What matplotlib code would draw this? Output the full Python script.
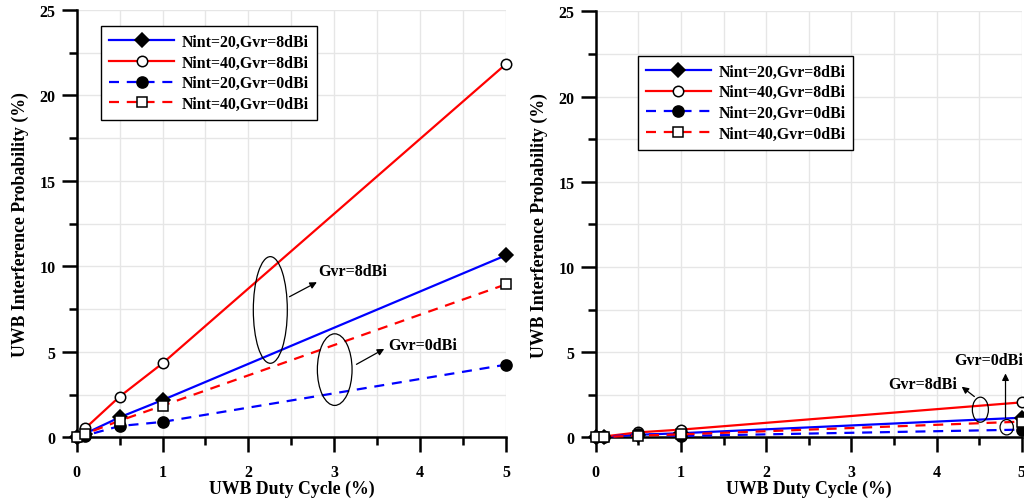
import matplotlib
matplotlib.use("Agg")
import matplotlib.pyplot as plt
from matplotlib.patches import Ellipse
from matplotlib.ticker import MultipleLocator

# ---------------- data ----------------
duty = [0, 0.1, 0.5, 1, 5]

# left panel
L_n20_8 = [0, 0.22, 1.17, 2.18, 10.65]
L_n40_8 = [0, 0.53, 2.38, 4.33, 21.84]
L_n20_0 = [0, 0.10, 0.66, 0.90, 4.25]
L_n40_0 = [0, 0.20, 0.97, 1.85, 8.95]

# right panel
R_n20_8 = [0, 0.03, 0.15, 0.24, 1.15]
R_n40_8 = [0, 0.05, 0.29, 0.45, 2.05]
R_n20_0 = [0, 0.01, 0.20, 0.08, 0.45]
R_n40_0 = [0, 0.02, 0.10, 0.17, 0.92]

labels = ["Nint=20,Gvr=8dBi", "Nint=40,Gvr=8dBi",
          "Nint=20,Gvr=0dBi", "Nint=40,Gvr=0dBi"]

FONT = "Liberation Serif"
plt.rcParams['font.family'] = [FONT, 'DejaVu Serif']
plt.rcParams['font.weight'] = 'bold'

fig = plt.figure(figsize=(10.24, 5.02), dpi=100)
axL = fig.add_axes([76.7/1024, 1-438.3/502, 429.3/1024, 427.3/502])
axR = fig.add_axes([595.7/1024, 1-438.3/502, 426.0/1024, 426.0/502])

dash = (0, (4.5, 3.5))


def draw(ax, series, leg_anchor):
    styles = [
        dict(color='blue', ls='-', marker='D', mfc='black', mec='black', ms=7),
        dict(color='red', ls='-', marker='o', mfc='white', mec='black', ms=7.5),
        dict(color='blue', ls=dash, marker='o', mfc='black', mec='black', ms=8),
        dict(color='red', ls=dash, marker='s', mfc='white', mec='black', ms=7),
    ]
    for ys, st, lab in zip(series, styles, labels):
        ax.plot(duty, ys, lw=1.6, mew=1.1, label=lab, clip_on=False, zorder=3, **st)
    ax.set_xlim(0, 5)
    ax.set_ylim(0, 25)
    ax.xaxis.set_major_locator(MultipleLocator(1))
    ax.xaxis.set_minor_locator(MultipleLocator(0.5))
    ax.yaxis.set_major_locator(MultipleLocator(5))
    ax.yaxis.set_minor_locator(MultipleLocator(2.5))
    ax.grid(True, which='both', color='#e6e6e6', lw=1.0, ls='-')
    ax.set_axisbelow(True)
    for s in ['top', 'right']:
        ax.spines[s].set_visible(False)
    for s in ['left', 'bottom']:
        ax.spines[s].set_linewidth(1.8)
    ax.tick_params(which='major', direction='out', length=11, width=1.8,
                   labelsize=11.5, pad=4)
    ax.tick_params(axis='x', which='major', pad=8)
    ax.tick_params(which='minor', direction='out', length=6, width=1.8)
    for t in ax.get_xticklabels() + ax.get_yticklabels():
        t.set_fontweight('bold')
    ax.set_xlabel("UWB Duty Cycle (%)", fontsize=12.8, fontweight='bold', labelpad=0)
    ax.set_ylabel("UWB Interference Probability (%)", fontsize=12.8,
                  fontweight='bold', labelpad=8)
    leg = ax.legend(loc='upper left', bbox_to_anchor=leg_anchor, borderaxespad=0,
                    fancybox=False, framealpha=1, edgecolor='black',
                    numpoints=1, handlelength=4.1,
                    prop={'family': FONT, 'weight': 'bold', 'size': 11.4},
                    borderpad=0.5, labelspacing=0.3, handletextpad=0.5)
    leg.get_frame().set_linewidth(1.0)


draw(axL, [L_n20_8, L_n40_8, L_n20_0, L_n40_0], (0.057, 0.963))
draw(axR, [R_n20_8, R_n40_8, R_n20_0, R_n40_0], (0.0986, 0.896))

txt = dict(fontsize=11.5, fontweight='bold', va='center')

# left annotations
axL.add_patch(Ellipse((2.255, 7.45), 0.396, 6.24, fill=False, ec='black', lw=0.9, zorder=4))
axL.annotate("", xy=(2.826, 9.15), xytext=(2.45, 8.15),
             arrowprops=dict(arrowstyle='-|>', color='black', lw=0.9))
axL.text(2.81, 9.75, "Gvr=8dBi", ha='left', **txt)
axL.add_patch(Ellipse((3.005, 3.96), 0.404, 4.19, fill=False, ec='black', lw=0.9, zorder=4))
axL.annotate("", xy=(3.61, 5.25), xytext=(3.23, 4.19),
             arrowprops=dict(arrowstyle='-|>', color='black', lw=0.9))
axL.text(3.63, 5.4, "Gvr=0dBi", ha='left', **txt)

# right annotations
axR.add_patch(Ellipse((4.515, 1.62), 0.188, 1.47, fill=False, ec='black', lw=0.9, zorder=4))
axR.annotate("", xy=(4.27, 3.07), xytext=(4.47, 2.29),
             arrowprops=dict(arrowstyle='-|>', color='black', lw=0.9))
axR.text(4.245, 3.13, "Gvr=8dBi", ha='right', **txt)
axR.add_patch(Ellipse((4.824, 0.59), 0.156, 0.9, fill=False, ec='black', lw=0.9, zorder=4))
axR.annotate("", xy=(4.81, 3.91), xytext=(4.81, 0.98),
             arrowprops=dict(arrowstyle='-|>', color='black', lw=0.9))
axR.text(4.21, 4.54, "Gvr=0dBi", ha='left', **txt)

fig.savefig("out.png", dpi=100)
